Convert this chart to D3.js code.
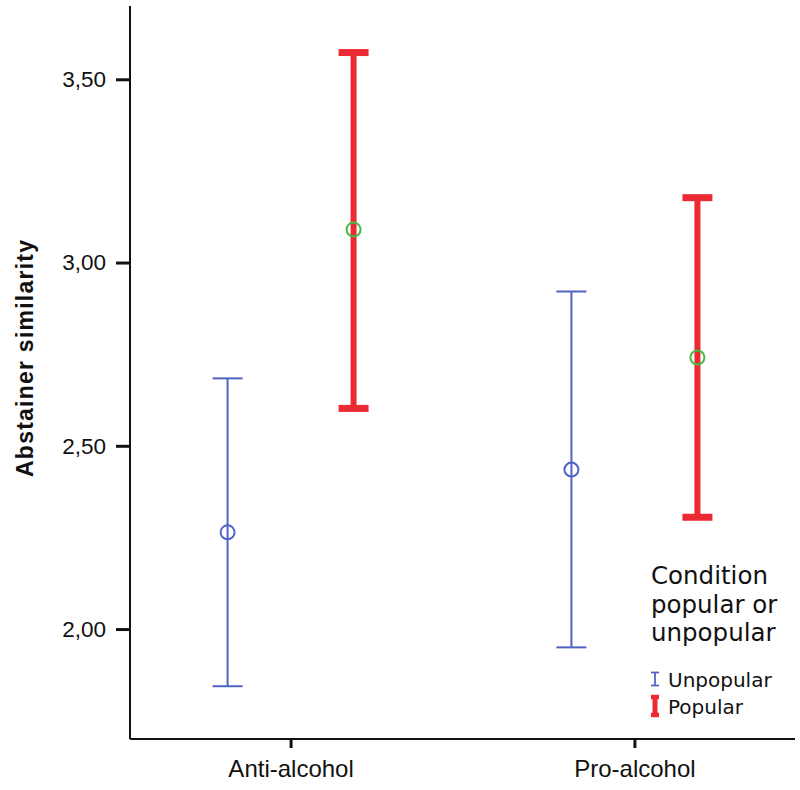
<!DOCTYPE html>
<html>
<head>
<meta charset="utf-8">
<script src="https://cdn.jsdelivr.net/npm/d3@7"></script>
<style>
  html, body { margin: 0; padding: 0; background: #fff; }
  svg { display: block; }
</style>
</head>
<body>
<svg id="chart" width="800" height="790"></svg>
<script>
// ---- Data ----
const categories = ["Anti-alcohol", "Pro-alcohol"];
const seriesNames = ["Unpopular", "Popular"];
const meanUnpopular  = [2.264, 2.435];
const lowerUnpopular = [1.844, 1.950];
const upperUnpopular = [2.684, 2.921];
const meanPopular    = [3.090, 2.741];
const lowerPopular   = [2.602, 2.305];
const upperPopular   = [3.573, 3.177];
const yTicks = [2.0, 2.5, 3.0, 3.5];
const yTickLabels = ["2,00", "2,50", "3,00", "3,50"];
const yLabel = "Abstainer similarity";
const legendTitle = ["Condition", "popular or", "unpopular"];

// ---- Styles ----
const colors = { Unpopular: "#4f64c2", Popular: "#ec2a33" };
const markerColors = { Unpopular: "#4f64c2", Popular: "#45bb45" };
const barWidths = { Unpopular: 2, Popular: 6 };

const svg = d3.select("#chart");

const y = d3.scaleLinear().domain([1.7, 3.7]).range([739, 6]);
const x = d3.scalePoint().domain(categories).range([130, 795]).padding(0.467);
const xOff = d3.scalePoint().domain(seriesNames).range([-63, 63]);

// Axes
const yAxis = d3.axisLeft(y).tickValues(yTicks)
  .tickFormat((d, i) => yTickLabels[i]).tickSize(14).tickPadding(10);
const gy = svg.append("g").attr("transform", "translate(130,0)").call(yAxis);
gy.select(".domain").attr("stroke", "#111").attr("stroke-width", 2).attr("d", `M0,${y.range()[1]}V${y.range()[0]}`);
gy.selectAll(".tick line").attr("stroke", "#111").attr("stroke-width", 3);
gy.selectAll(".tick text").attr("font-family", "Liberation Sans, Arial, sans-serif")
  .attr("font-size", 22.5).attr("fill", "#111");

const xAxis = d3.axisBottom(x).tickSize(9).tickPadding(12);
const gx = svg.append("g").attr("transform", "translate(0,739)").call(xAxis);
gx.select(".domain").attr("stroke", "#111").attr("stroke-width", 2).attr("d", `M130,0H795`);
gx.selectAll(".tick line").attr("stroke", "#111").attr("stroke-width", 3);
gx.selectAll(".tick text").attr("font-family", "Liberation Sans, Arial, sans-serif")
  .attr("font-size", 24).attr("fill", "#111");

// Y label
svg.append("text")
  .attr("transform", `translate(33,${(240 + 477) / 2}) rotate(-90)`)
  .attr("text-anchor", "middle")
  .attr("font-family", "Liberation Sans, Arial, sans-serif")
  .attr("font-weight", "bold").attr("font-size", 23)
  .attr("textLength", 237).attr("lengthAdjust", "spacing")
  .attr("fill", "#111").text(yLabel);

// Error bars
const series = [
  { name: "Unpopular", mean: meanUnpopular, lo: lowerUnpopular, hi: upperUnpopular },
  { name: "Popular", mean: meanPopular, lo: lowerPopular, hi: upperPopular }
];
const capHalf = 15;
series.forEach(s => {
  const g = svg.append("g");
  categories.forEach((c, i) => {
    const cx = x(c) + xOff(s.name);
    const col = colors[s.name];
    const w = barWidths[s.name];
    g.append("line").attr("x1", cx).attr("x2", cx)
      .attr("y1", y(s.lo[i])).attr("y2", y(s.hi[i]))
      .attr("stroke", col).attr("stroke-width", w);
    [s.lo[i], s.hi[i]].forEach(v => {
      g.append("line").attr("x1", cx - capHalf).attr("x2", cx + capHalf)
        .attr("y1", y(v)).attr("y2", y(v))
        .attr("stroke", col).attr("stroke-width", s.name === "Popular" ? 7 : 2);
    });
    g.append("circle").attr("cx", cx).attr("cy", y(s.mean[i]))
      .attr("r", 7)
      .attr("fill", "none").attr("stroke", markerColors[s.name])
      .attr("stroke-width", 2);
  });
});

// Legend
const lg = svg.append("g");
legendTitle.forEach((t, i) => {
  lg.append("text").attr("x", 651).attr("y", 584 + i * 28.5)
    .attr("font-family", "DejaVu Sans, Verdana, sans-serif")
    .attr("font-size", 24.5).attr("fill", "#111").text(t);
});
seriesNames.forEach((n, i) => {
  const yy = 679 + i * 27;
  const sx = 655;
  const h = n === "Popular" ? 9 : 6.5;
  lg.append("line").attr("x1", sx).attr("x2", sx).attr("y1", yy - h).attr("y2", yy + h)
    .attr("stroke", colors[n]).attr("stroke-width", n === "Popular" ? 5 : 1.8);
  [yy - h, yy + h].forEach(v => {
    lg.append("line").attr("x1", sx - 4).attr("x2", sx + 4).attr("y1", v).attr("y2", v)
      .attr("stroke", colors[n]).attr("stroke-width", n === "Popular" ? 4.5 : 1.8);
  });
  lg.append("text").attr("x", 668).attr("y", yy + 8)
    .attr("font-family", "DejaVu Sans, Verdana, sans-serif")
    .attr("font-size", 20).attr("fill", "#111").text(n);
});
</script>
</body>
</html>
